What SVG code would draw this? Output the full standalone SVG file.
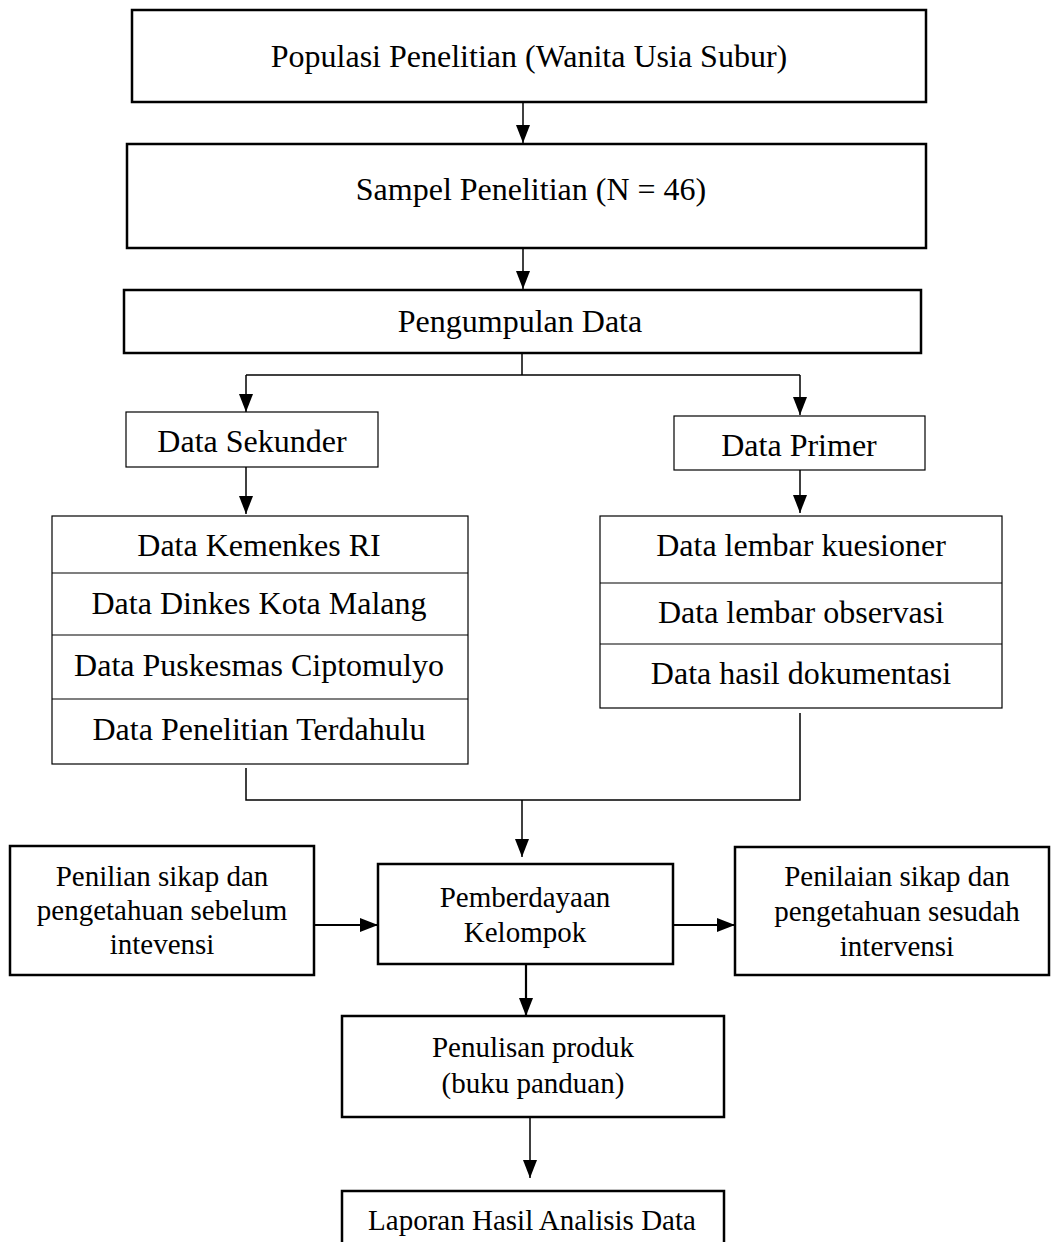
<svg xmlns="http://www.w3.org/2000/svg" width="1051" height="1242" viewBox="0 0 1051 1242">
<style>
  .thick { fill: #fff; stroke: #000; stroke-width: 2.5; }
  .thin { fill: #fff; stroke: #000; stroke-width: 1.2; }
  .t32 { font-family: "Liberation Serif", "Times New Roman", serif; font-size: 32px; fill: #000; text-anchor: middle; }
  .t29 { font-family: "Liberation Serif", "Times New Roman", serif; font-size: 29px; fill: #000; text-anchor: middle; }
  .c { fill: none; stroke: #000; stroke-width: 1.5; }
  .cw { fill: none; stroke: #000; stroke-width: 2.2; }
</style>
<defs>
  <marker id="ah" markerUnits="userSpaceOnUse" markerWidth="20" markerHeight="16" refX="18" refY="7" orient="auto">
    <path d="M0,0 L18,7 L0,14 z" fill="#000"/>
  </marker>
</defs>
<rect width="1051" height="1242" fill="#fff"/>

<g id="connectors">
  <line class="c" x1="523" y1="102" x2="523" y2="143" marker-end="url(#ah)"/>
  <line class="c" x1="523" y1="248" x2="523" y2="289" marker-end="url(#ah)"/>
  <line class="c" x1="522" y1="353" x2="522" y2="375"/>
  <polyline class="c" points="246,375 800,375"/>
  <line class="c" x1="246" y1="375" x2="246" y2="412" marker-end="url(#ah)"/>
  <line class="c" x1="800" y1="375" x2="800" y2="415" marker-end="url(#ah)"/>
  <line class="c" x1="246" y1="467" x2="246" y2="514" marker-end="url(#ah)"/>
  <line class="c" x1="800" y1="470" x2="800" y2="513" marker-end="url(#ah)"/>
  <polyline class="c" points="246,768 246,800 800,800 800,713"/>
  <line class="c" x1="522" y1="800" x2="522" y2="857" marker-end="url(#ah)"/>
  <line class="cw" x1="314" y1="925" x2="378" y2="925" marker-end="url(#ah)"/>
  <line class="cw" x1="673" y1="925" x2="735" y2="925" marker-end="url(#ah)"/>
  <line class="cw" x1="526" y1="964" x2="526" y2="1016" marker-end="url(#ah)"/>
  <line class="c" x1="530" y1="1117" x2="530" y2="1178" marker-end="url(#ah)"/>
</g>

<g id="populasi">
  <rect class="thick" x="132" y="10" width="794" height="92"/>
  <text class="t32" x="529" y="67">Populasi Penelitian (Wanita Usia Subur)</text>
</g>
<g id="sampel">
  <rect class="thick" x="127" y="144" width="799" height="104"/>
  <text class="t32" x="531" y="200">Sampel Penelitian (N = 46)</text>
</g>
<g id="pengumpulan">
  <rect class="thick" x="124" y="290" width="797" height="63"/>
  <text class="t32" x="520" y="332">Pengumpulan Data</text>
</g>
<g id="sekunder">
  <rect class="thin" x="126" y="412" width="252" height="55"/>
  <text class="t32" x="252" y="452">Data Sekunder</text>
</g>
<g id="primer">
  <rect class="thin" x="674" y="416" width="251" height="54"/>
  <text class="t32" x="799" y="456">Data Primer</text>
</g>
<g id="sekunder-list">
  <rect class="thin" x="52" y="516" width="416" height="248"/>
  <line class="thin" x1="52" y1="573" x2="468" y2="573"/>
  <line class="thin" x1="52" y1="635" x2="468" y2="635"/>
  <line class="thin" x1="52" y1="699" x2="468" y2="699"/>
  <text class="t32" x="259" y="556">Data Kemenkes RI</text>
  <text class="t32" x="259" y="614">Data Dinkes Kota Malang</text>
  <text class="t32" x="259" y="676">Data Puskesmas Ciptomulyo</text>
  <text class="t32" x="259" y="740">Data Penelitian Terdahulu</text>
</g>
<g id="primer-list">
  <rect class="thin" x="600" y="516" width="402" height="192"/>
  <line class="thin" x1="600" y1="583" x2="1002" y2="583"/>
  <line class="thin" x1="600" y1="644" x2="1002" y2="644"/>
  <text class="t32" x="801" y="556">Data lembar kuesioner</text>
  <text class="t32" x="801" y="623">Data lembar observasi</text>
  <text class="t32" x="801" y="684">Data hasil dokumentasi</text>
</g>
<g id="sebelum">
  <rect class="thick" x="10" y="846" width="304" height="129"/>
  <text class="t29" x="162" y="886">Penilian sikap dan</text>
  <text class="t29" x="162" y="920">pengetahuan sebelum</text>
  <text class="t29" x="162" y="954">intevensi</text>
</g>
<g id="pemberdayaan">
  <rect class="thick" x="378" y="864" width="295" height="100"/>
  <text class="t29" x="525" y="907">Pemberdayaan</text>
  <text class="t29" x="525" y="942">Kelompok</text>
</g>
<g id="sesudah">
  <rect class="thick" x="735" y="847" width="314" height="128"/>
  <text class="t29" x="897" y="886">Penilaian sikap dan</text>
  <text class="t29" x="897" y="921">pengetahuan sesudah</text>
  <text class="t29" x="897" y="956">intervensi</text>
</g>
<g id="penulisan">
  <rect class="thick" x="342" y="1016" width="382" height="101"/>
  <text class="t29" x="533" y="1057">Penulisan produk</text>
  <text class="t29" x="533" y="1093">(buku panduan)</text>
</g>
<g id="laporan">
  <rect class="thick" x="342" y="1191" width="382" height="70"/>
  <text class="t29" x="532" y="1230">Laporan Hasil Analisis Data</text>
</g>
</svg>
